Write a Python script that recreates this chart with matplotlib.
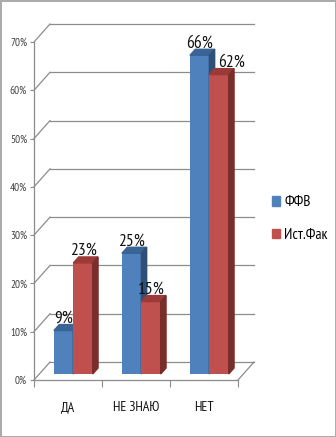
import matplotlib
matplotlib.use("Agg")
import matplotlib.pyplot as plt
from matplotlib.patches import Polygon, Patch

plt.rcParams['font.family'] = ['PT Sans Narrow', 'DejaVu Sans']

# chart data
categories = ["ДА", "НЕ ЗНАЮ", "НЕТ"]
series_names = ["ФФВ", "Ист.Фак"]
ffv_values = [9, 25, 66]
ist_values = [23, 15, 62]
y_ticks = [0, 10, 20, 30, 40, 50, 60, 70]

# colours: front, top, side for each series
front_colors = ["#4F81BD", "#C0504D"]
top_colors = ["#3A6396", "#9B3B38"]
side_colors = ["#2E4F78", "#7A2E2C"]
grid_color = "#8C8C8C"

fig = plt.figure(figsize=(3.36, 4.37), dpi=100,
                 edgecolor="#ABABAB", linewidth=1.0)
ax = fig.add_axes([34 / 336, 1 - 380 / 437, 204 / 336, 338 / 437])
ax.set_xlim(0, len(categories))
ax.set_ylim(0, 70)

# depth of the fake 3d box, in data units
depth_x = 16 / 68
depth_y = 18 / (338 / 70)

# back wall gridlines and the left side wall diagonals
for v in y_ticks:
    ax.plot([depth_x, len(categories) + depth_x], [v + depth_y, v + depth_y],
            color=grid_color, lw=0.9, zorder=1, clip_on=False)
    ax.plot([0, depth_x], [v, v + depth_y],
            color=grid_color, lw=0.9, zorder=1, clip_on=False)

# floor right edge
ax.plot([len(categories), len(categories) + depth_x], [0, depth_y],
        color=grid_color, lw=0.9, zorder=1, clip_on=False)

# bars sit in the middle third of the depth
ox, oy = depth_x / 3, depth_y / 3
bdx, bdy = depth_x / 3, depth_y / 3
width = 0.285

# the 62% label is nudged right so it does not touch the 66% one
label_nudge = {(1, 2): 9}

for s, values in enumerate([ffv_values, ist_values]):
    for i, v in enumerate(values):
        x0 = i + 0.5 - width + s * width + ox
        ax.bar(x0, v, width=width, bottom=oy, align="edge",
               color=front_colors[s], edgecolor="none", zorder=3 + s,
               clip_on=False)
        top = [(x0, v + oy), (x0 + width, v + oy),
               (x0 + width + bdx, v + oy + bdy), (x0 + bdx, v + oy + bdy)]
        side = [(x0 + width, oy), (x0 + width, v + oy),
                (x0 + width + bdx, v + oy + bdy), (x0 + width + bdx, oy + bdy)]
        ax.add_patch(Polygon(top, closed=True, color=top_colors[s],
                             zorder=3 + s, clip_on=False))
        ax.add_patch(Polygon(side, closed=True, color=side_colors[s],
                             zorder=3 + s, clip_on=False))
        ax.annotate(f"{v}%", (x0 + width / 2, v + oy + bdy),
                    xytext=(label_nudge.get((s, i), 0), -1.5),
                    textcoords="offset points",
                    ha="center", va="bottom", fontsize=12.5,
                    color="#111111", zorder=6, annotation_clip=False)

# axes styling
for side_name in ["top", "right"]:
    ax.spines[side_name].set_visible(False)
for side_name in ["left", "bottom"]:
    ax.spines[side_name].set_color(grid_color)
    ax.spines[side_name].set_linewidth(0.9)
    ax.spines[side_name].set_zorder(2)

ax.set_yticks(y_ticks)
ax.set_yticklabels([f"{v}%" for v in y_ticks], fontsize=8, color="#404040")
ax.tick_params(axis="y", length=3, color=grid_color, pad=2)

ax.set_xticks(range(len(categories) + 1))
ax.set_xticklabels([])
ax.set_xticks([i + 0.5 for i in range(len(categories))], minor=True)
ax.set_xticklabels(categories, minor=True, fontsize=10, color="#111111")
ax.tick_params(axis="x", which="major", length=5, color=grid_color)
ax.tick_params(axis="x", which="minor", length=0, pad=15)
ax.patch.set_visible(False)

# legend on the right
handles = [Patch(color=c) for c in front_colors]
fig.legend(handles, series_names, loc="center left",
           bbox_to_anchor=(272 / 336, 0.5), frameon=False, fontsize=11,
           borderpad=0, borderaxespad=0,
           handlelength=0.55, handleheight=0.55, handletextpad=0.25,
           labelspacing=1.2)

fig.savefig("out.png", dpi=100, edgecolor=fig.get_edgecolor())
